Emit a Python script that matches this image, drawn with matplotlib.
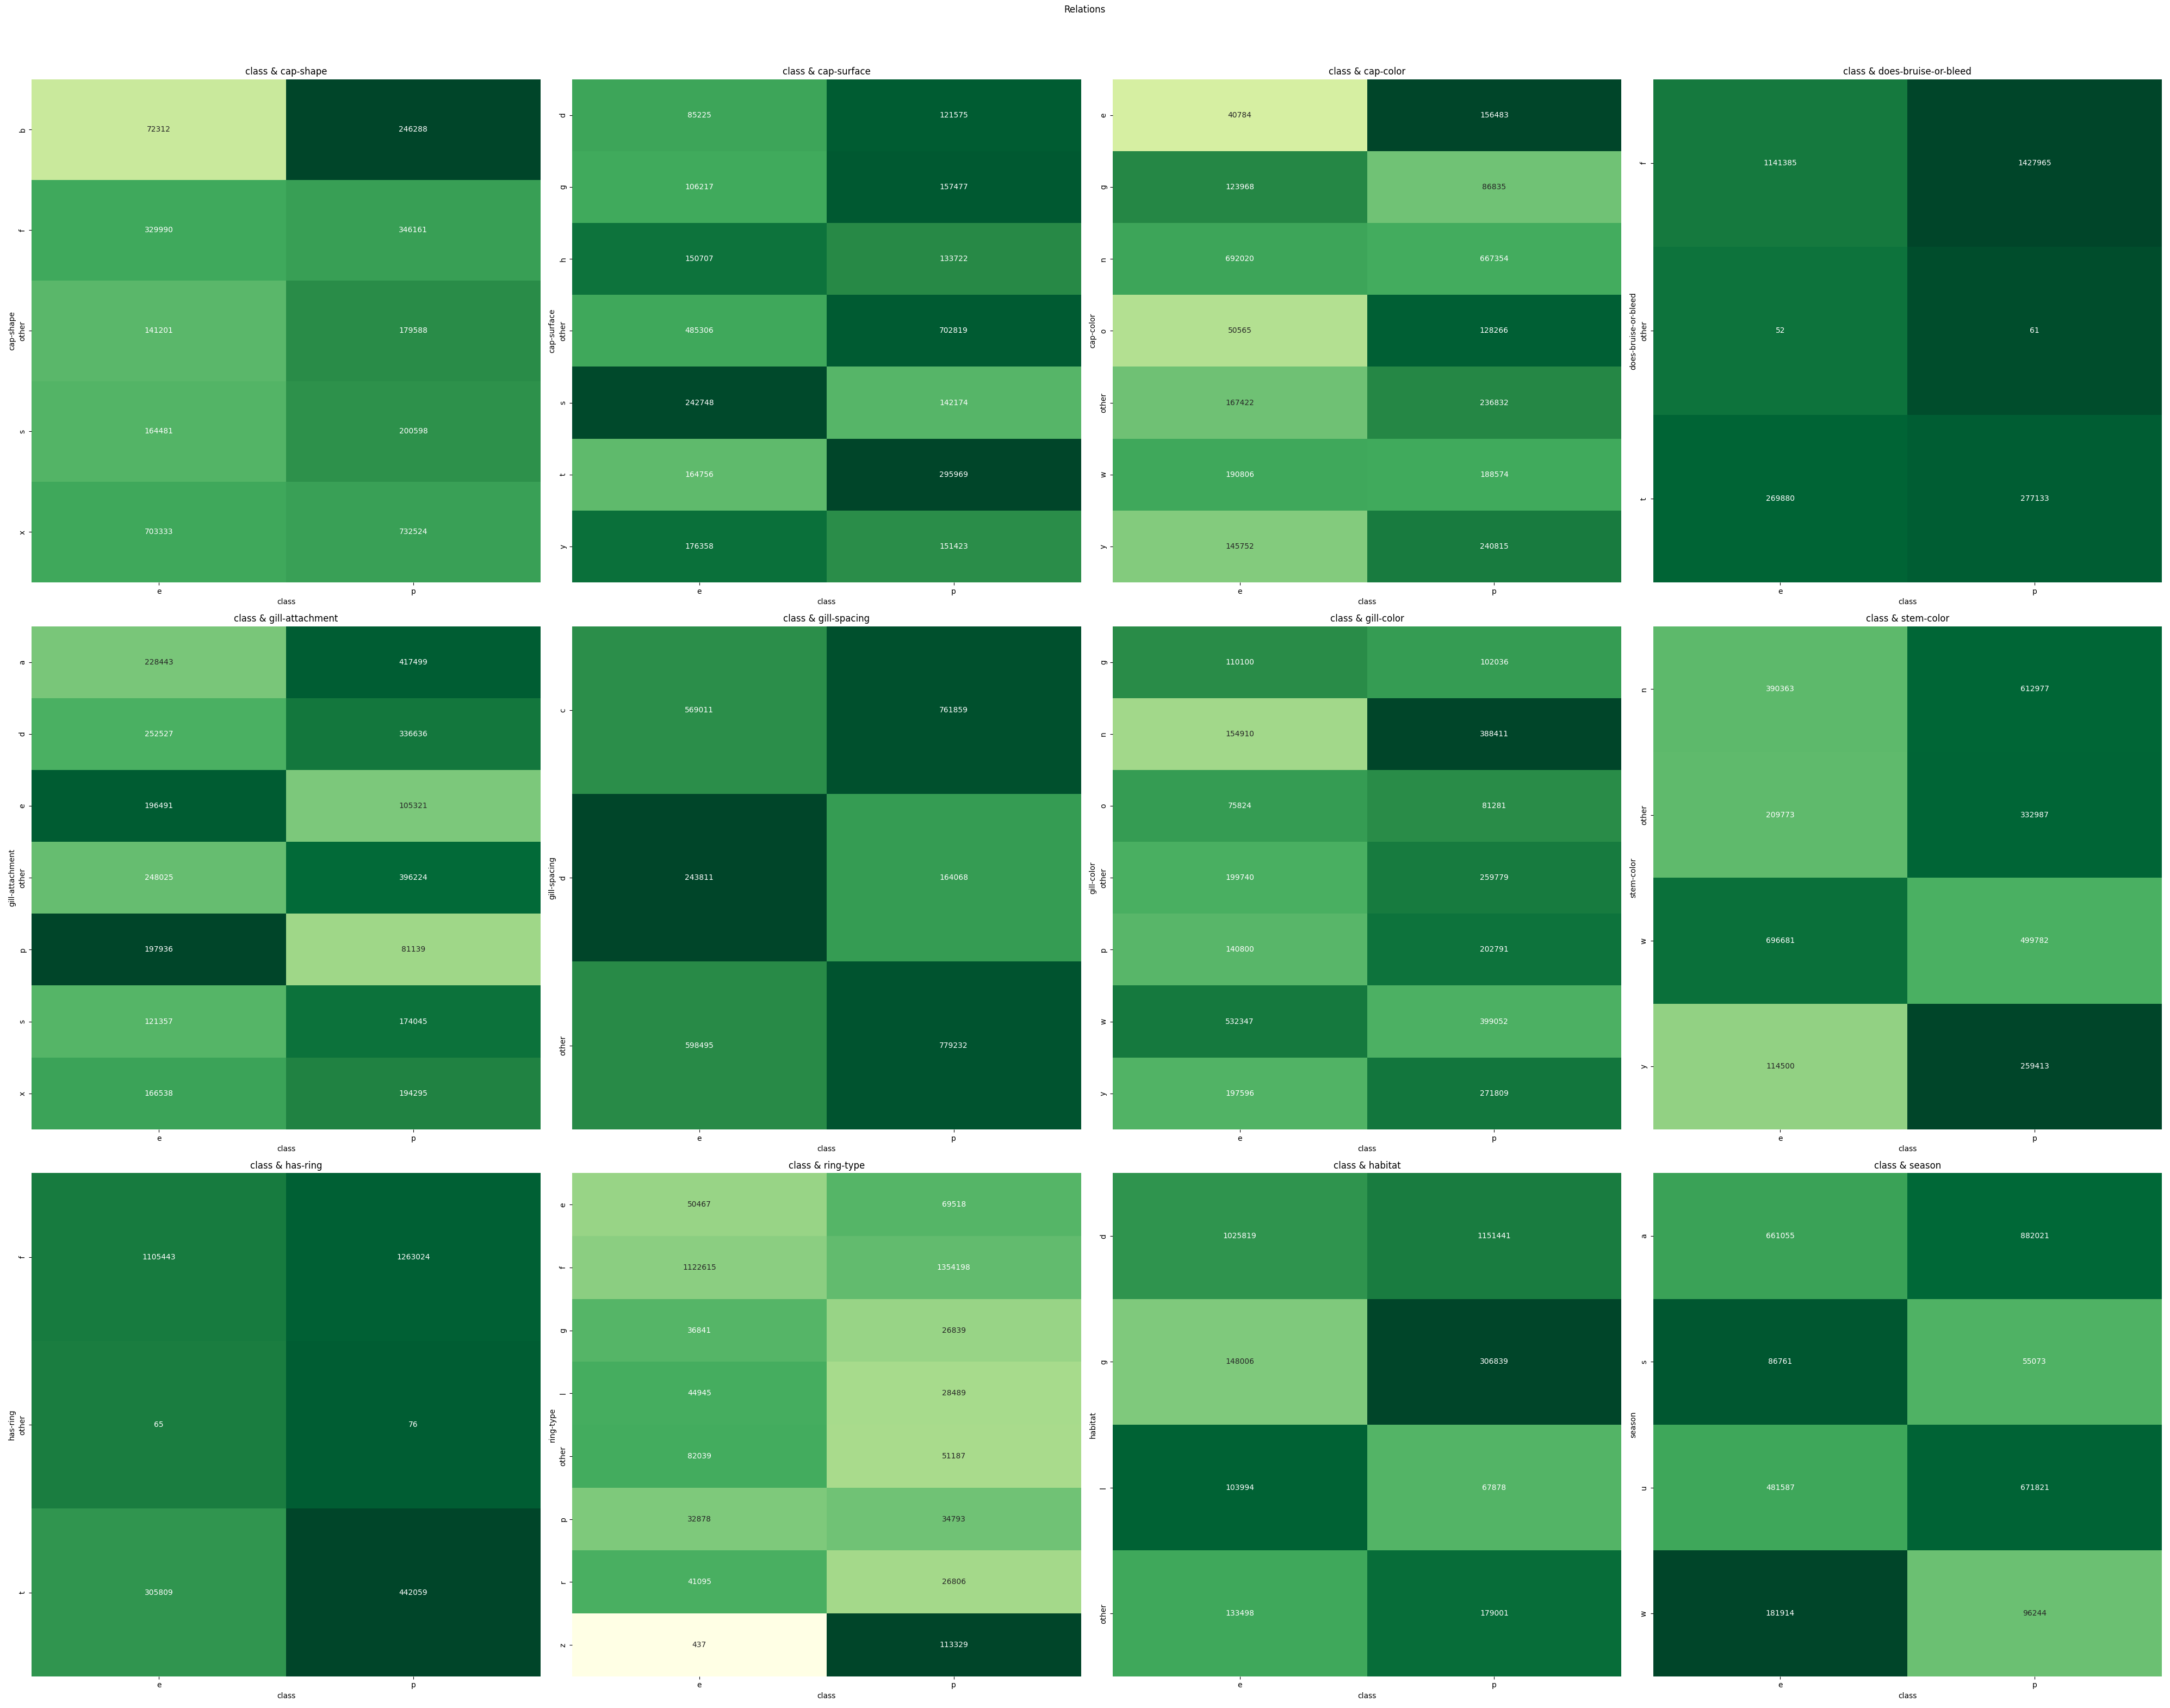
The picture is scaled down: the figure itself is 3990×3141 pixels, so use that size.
import matplotlib
matplotlib.use("Agg")
import matplotlib.pyplot as plt
import numpy as np
import pandas as pd
import seaborn as sns

# counts per (feature level, class) -- class columns: e, p
class_labels = ["e", "p"]

cap_shape_levels = ["b", "f", "other", "s", "x"]
cap_shape_e = [72312, 329990, 141201, 164481, 703333]
cap_shape_p = [246288, 346161, 179588, 200598, 732524]

cap_surface_levels = ["d", "g", "h", "other", "s", "t", "y"]
cap_surface_e = [85225, 106217, 150707, 485306, 242748, 164756, 176358]
cap_surface_p = [121575, 157477, 133722, 702819, 142174, 295969, 151423]

cap_color_levels = ["e", "g", "n", "o", "other", "w", "y"]
cap_color_e = [40784, 123968, 692020, 50565, 167422, 190806, 145752]
cap_color_p = [156483, 86835, 667354, 128266, 236832, 188574, 240815]

bruise_levels = ["f", "other", "t"]
bruise_e = [1141385, 52, 269880]
bruise_p = [1427965, 61, 277133]

gill_attachment_levels = ["a", "d", "e", "other", "p", "s", "x"]
gill_attachment_e = [228443, 252527, 196491, 248025, 197936, 121357, 166538]
gill_attachment_p = [417499, 336636, 105321, 396224, 81139, 174045, 194295]

gill_spacing_levels = ["c", "d", "other"]
gill_spacing_e = [569011, 243811, 598495]
gill_spacing_p = [761859, 164068, 779232]

gill_color_levels = ["g", "n", "o", "other", "p", "w", "y"]
gill_color_e = [110100, 154910, 75824, 199740, 140800, 532347, 197596]
gill_color_p = [102036, 388411, 81281, 259779, 202791, 399052, 271809]

stem_color_levels = ["n", "other", "w", "y"]
stem_color_e = [390363, 209773, 696681, 114500]
stem_color_p = [612977, 332987, 499782, 259413]

has_ring_levels = ["f", "other", "t"]
has_ring_e = [1105443, 65, 305809]
has_ring_p = [1263024, 76, 442059]

ring_type_levels = ["e", "f", "g", "l", "other", "p", "r", "z"]
ring_type_e = [50467, 1122615, 36841, 44945, 82039, 32878, 41095, 437]
ring_type_p = [69518, 1354198, 26839, 28489, 51187, 34793, 26806, 113329]

habitat_levels = ["d", "g", "l", "other"]
habitat_e = [1025819, 148006, 103994, 133498]
habitat_p = [1151441, 306839, 67878, 179001]

season_levels = ["a", "s", "u", "w"]
season_e = [661055, 86761, 481587, 181914]
season_p = [882021, 55073, 671821, 96244]

features = [
    ("cap-shape", cap_shape_levels, cap_shape_e, cap_shape_p),
    ("cap-surface", cap_surface_levels, cap_surface_e, cap_surface_p),
    ("cap-color", cap_color_levels, cap_color_e, cap_color_p),
    ("does-bruise-or-bleed", bruise_levels, bruise_e, bruise_p),
    ("gill-attachment", gill_attachment_levels, gill_attachment_e, gill_attachment_p),
    ("gill-spacing", gill_spacing_levels, gill_spacing_e, gill_spacing_p),
    ("gill-color", gill_color_levels, gill_color_e, gill_color_p),
    ("stem-color", stem_color_levels, stem_color_e, stem_color_p),
    ("has-ring", has_ring_levels, has_ring_e, has_ring_p),
    ("ring-type", ring_type_levels, ring_type_e, ring_type_p),
    ("habitat", habitat_levels, habitat_e, habitat_p),
    ("season", season_levels, season_e, season_p),
]

fig, axes = plt.subplots(3, 4, figsize=(39.9, 31.41), dpi=100)

for ax, (name, levels, e_counts, p_counts) in zip(axes.flat, features):
    counts = pd.DataFrame({"e": e_counts, "p": p_counts}, index=levels)
    counts.index.name = name
    counts.columns.name = "class"
    # colour = share of each class within the row
    shares = counts.div(counts.sum(axis=1), axis=0)
    sns.heatmap(
        shares,
        annot=counts.values,
        fmt="d",
        cmap="YlGn",
        vmin=0,
        cbar=False,
        ax=ax,
    )
    ax.set_title(f"class & {name}")
    ax.set_xlabel("class")
    ax.set_ylabel(name)

fig.suptitle("Relations", y=0.997)
plt.tight_layout(rect=[0, 0, 1, 0.976])
plt.savefig("out.png", dpi=100)
plt.close()
